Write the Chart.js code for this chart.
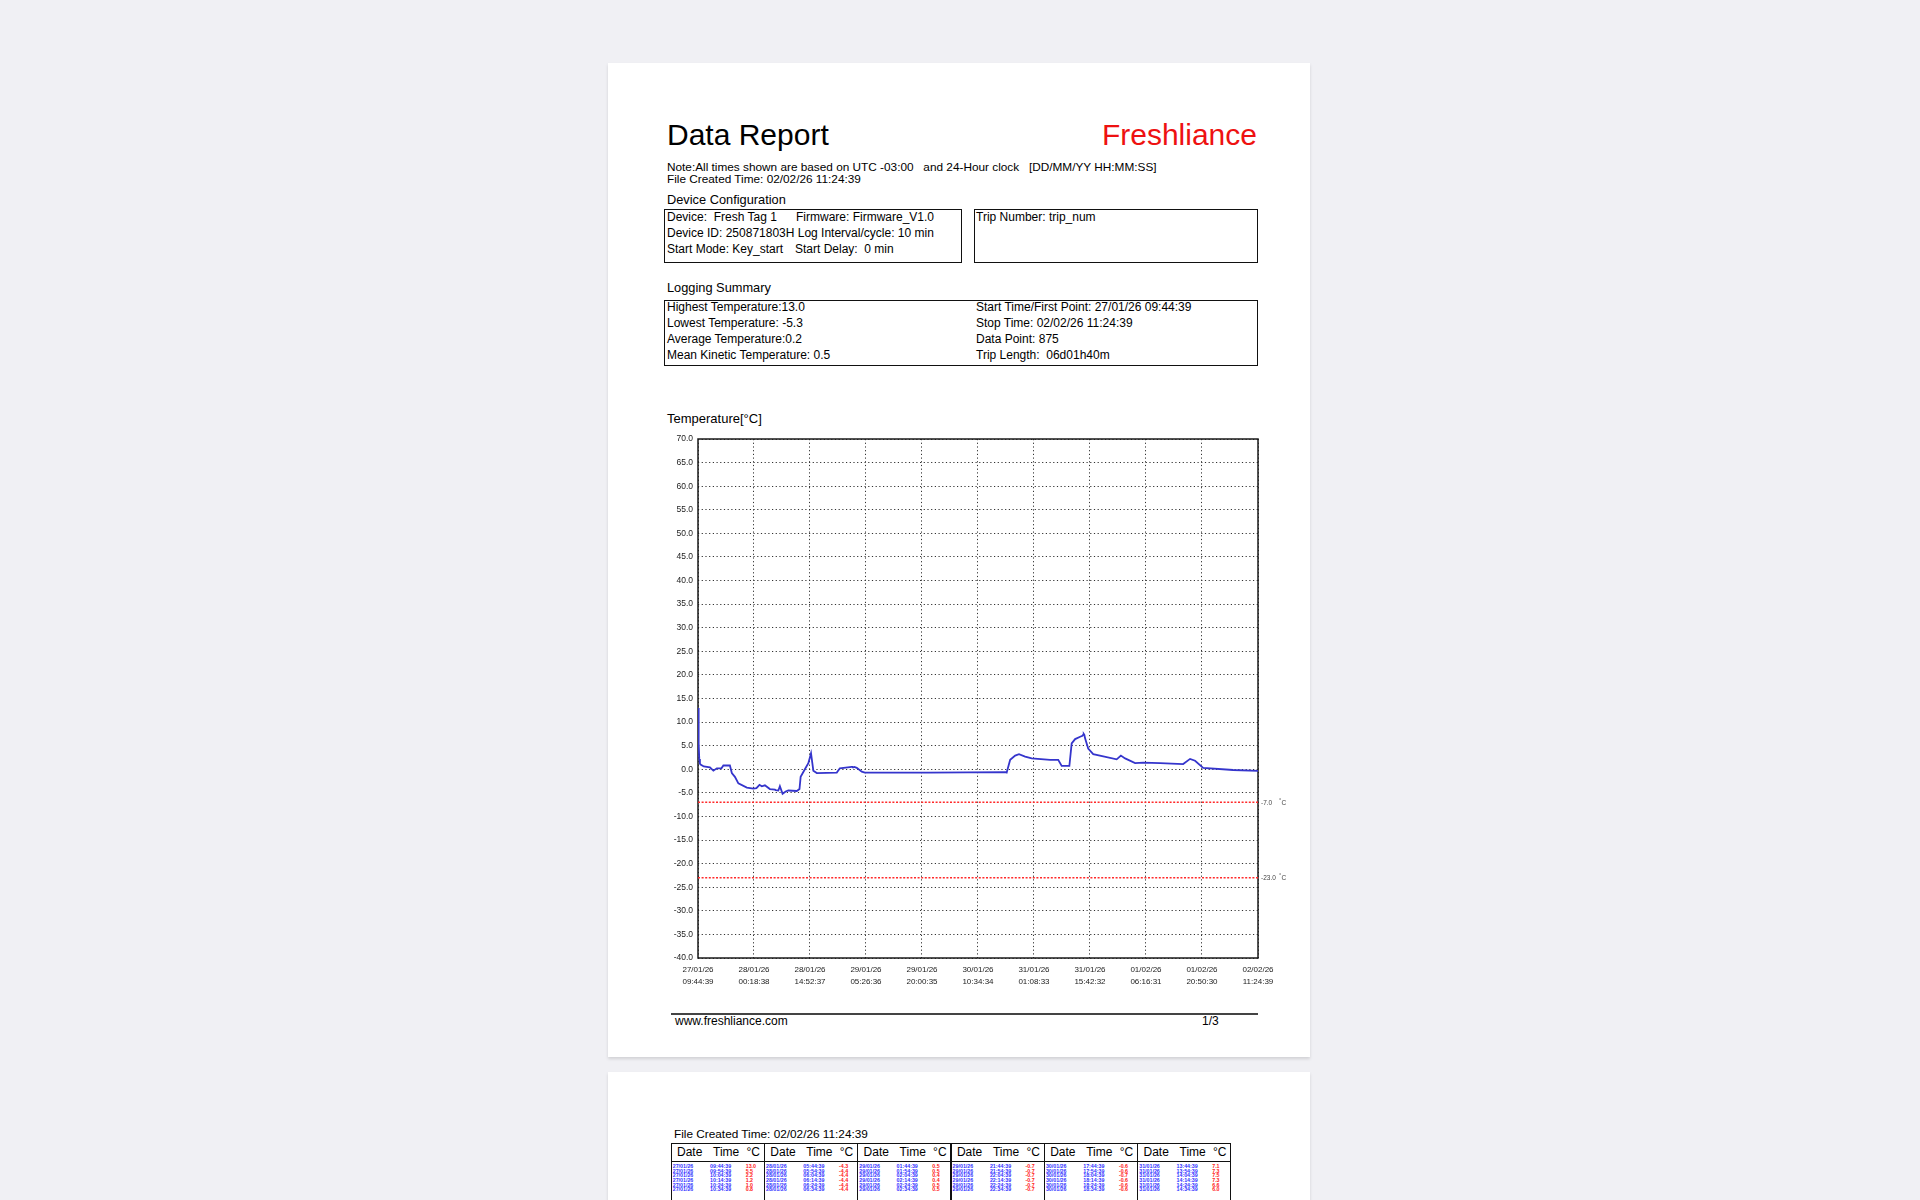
<!DOCTYPE html>
<html>
<head>
<meta charset="utf-8">
<title>Data Report</title>
<script src="https://cdn.jsdelivr.net/npm/chart.js@4/dist/chart.umd.min.js"></script>
<style>
html, body { margin: 0; padding: 0; }
body {
    width: 1920px; height: 1200px; overflow: hidden; position: relative;
    background: #f0f0f4;
    font-family: "Liberation Sans", Arial, sans-serif; color: #000;
}
.page { position: absolute; left: 608px; width: 702px; background: #fff; box-shadow: 0 2px 3px rgba(0,0,0,0.13); }
.t { position: absolute; white-space: pre; line-height: 1; }
.box { position: absolute; border: 1.5px solid #111; box-sizing: border-box; }
.hl { position: absolute; background: #111; }
#chartWrap { position: absolute; left: 640px; top: 420px; }
.cell { position: absolute; white-space: pre; line-height: 1; font-size: 5.3px; font-weight: bold; }
</style>
</head>
<body>

<div class="page" style="top:63px;height:994px;"></div>
<div class="page" style="top:1072px;height:200px;"></div>

<!-- header -->
<div class="t" style="left:667px;top:120px;font-size:30px;">Data Report</div>
<div class="t" style="right:663px;top:120px;font-size:30px;color:#ee1111;">Freshliance</div>
<div class="t" style="left:667px;top:162px;font-size:11.8px;">Note:All times shown are based on UTC -03:00   and 24-Hour clock   [DD/MM/YY HH:MM:SS]</div>
<div class="t" style="left:667px;top:174px;font-size:11.8px;">File Created Time: 02/02/26 11:24:39</div>

<!-- device configuration -->
<div class="t" style="left:667px;top:194px;font-size:12.8px;">Device Configuration</div>
<div class="box" style="left:664px;top:209px;width:298px;height:54px;"></div>
<div class="box" style="left:974px;top:209px;width:284px;height:54px;"></div>
<div class="t" style="left:667px;top:211px;font-size:12px;">Device:  Fresh Tag 1</div>
<div class="t" style="left:796px;top:211px;font-size:12px;">Firmware: Firmware_V1.0</div>
<div class="t" style="left:667px;top:227px;font-size:12px;">Device ID: 250871803H Log Interval/cycle: 10 min</div>
<div class="t" style="left:667px;top:243px;font-size:12px;">Start Mode: Key_start</div>
<div class="t" style="left:795px;top:243px;font-size:12px;">Start Delay:  0 min</div>
<div class="t" style="left:976px;top:211px;font-size:12px;">Trip Number: trip_num</div>

<!-- logging summary -->
<div class="t" style="left:667px;top:282px;font-size:12.8px;">Logging Summary</div>
<div class="box" style="left:664px;top:300px;width:594px;height:66px;"></div>
<div class="t" style="left:667px;top:301px;font-size:12px;">Highest Temperature:13.0</div>
<div class="t" style="left:667px;top:317px;font-size:12px;">Lowest Temperature: -5.3</div>
<div class="t" style="left:667px;top:333px;font-size:12px;">Average Temperature:0.2</div>
<div class="t" style="left:667px;top:349px;font-size:12px;">Mean Kinetic Temperature: 0.5</div>
<div class="t" style="left:976px;top:301px;font-size:12px;">Start Time/First Point: 27/01/26 09:44:39</div>
<div class="t" style="left:976px;top:317px;font-size:12px;">Stop Time: 02/02/26 11:24:39</div>
<div class="t" style="left:976px;top:333px;font-size:12px;">Data Point: 875</div>
<div class="t" style="left:976px;top:349px;font-size:12px;">Trip Length:  06d01h40m</div>

<!-- chart -->
<div class="t" style="left:667px;top:412px;font-size:13px;">Temperature[°C]</div>
<div id="chartWrap"><canvas id="tempChart" width="680" height="590"></canvas></div>

<!-- footer -->
<div class="hl" style="left:671px;top:1013px;width:587px;height:2px;background:#444;"></div>
<div class="t" style="left:675px;top:1015px;font-size:12px;">www.freshliance.com</div>
<div class="t" style="left:1202px;top:1015px;font-size:12px;">1/3</div>

<!-- page 2 -->
<div class="t" style="left:674px;top:1129px;font-size:11.8px;">File Created Time: 02/02/26 11:24:39</div>
<div id="table"></div>

<script>
// ---------- chart data ----------
const hours = [0, 0.17, 0.33, 0.5, 0.67, 1.5, 3.1, 4.0, 4.9, 6.1, 6.6, 8.3, 8.8, 9.6, 10.5, 12.7, 14.4, 15.2, 16.0, 16.6,
    17.4, 18.7, 20.0, 20.17, 20.9, 21.3, 22.0, 22.8, 23.5, 25.7, 26.4, 26.7, 27.8, 28.7, 29.4, 30.0, 30.9, 36.1, 36.9,
    40.0, 40.17, 40.33, 40.5, 40.67, 41.3, 42.6, 43.4, 60.0, 80.0, 80.3, 81.2, 82.5, 83.5, 85.1, 86.8, 91.6, 93.7, 94.6,
    96.6, 97.2, 98.1, 99.4, 100.0, 100.17, 100.33, 100.5, 100.67, 101.5, 102.8, 108.9, 110.0, 111.1, 113.7, 115.8,
    120.2, 126.2, 128.0, 129.3, 131.4, 139.2, 145.67];
const tempC = [13.0, 5.5, 2.2, 1.2, 1.0, 0.6, 0.4, -0.3, 0.2, 0.2, 0.8, 0.8, -0.8, -1.6, -3.0, -3.9, -4.1, -4.0, -3.3, -3.6,
    -3.4, -4.2, -4.3, -4.4, -4.5, -3.6, -5.2, -4.7, -4.5, -4.6, -4.2, -1.6, 0.0, 1.3, 3.4, -0.3, -0.8, -0.7, 0.2,
    0.5, 0.5, 0.4, 0.4, 0.5, 0.3, -0.5, -0.7, -0.7, -0.6, -0.7, 2.0, 2.9, 3.2, 2.7, 2.3, 2.0, 2.0, 0.7,
    0.7, 5.5, 6.4, 6.9, 7.1, 7.3, 7.5, 7.3, 6.6, 4.4, 3.2, 2.1, 2.9, 2.3, 1.3, 1.4,
    1.3, 1.1, 2.2, 1.8, 0.3, -0.15, -0.35];

const xTickHours = [0, 14.566, 29.133, 43.699, 58.266, 72.832, 87.398, 101.965, 116.531, 131.098, 145.667];
const xTickDates = ["27/01/26", "28/01/26", "28/01/26", "29/01/26", "29/01/26", "30/01/26", "31/01/26", "31/01/26", "01/02/26", "01/02/26", "02/02/26"];
const xTickTimes = ["09:44:39", "00:18:38", "14:52:37", "05:26:36", "20:00:35", "10:34:34", "01:08:33", "15:42:32", "06:16:31", "20:50:30", "11:24:39"];

const yMin = -40;
const yMax = 70;
const yStep = 5;
const alarmLimits = [-7, -23];

// ---------- page 2 table ----------
const tableDates = ["27/01/26", "28/01/26", "29/01/26", "29/01/26", "30/01/26", "31/01/26"];
const tableTimes = [
    ["09:44:39", "09:54:39", "10:04:39", "10:14:39", "10:24:39", "10:34:39"],
    ["05:44:39", "05:54:39", "06:04:39", "06:14:39", "06:24:39", "06:34:39"],
    ["01:44:39", "01:54:39", "02:04:39", "02:14:39", "02:24:39", "02:34:39"],
    ["21:44:39", "21:54:39", "22:04:39", "22:14:39", "22:24:39", "22:34:39"],
    ["17:44:39", "17:54:39", "18:04:39", "18:14:39", "18:24:39", "18:34:39"],
    ["13:44:39", "13:54:39", "14:04:39", "14:14:39", "14:24:39", "14:34:39"]
];
const tableTemps = [
    ["13.0", "5.5", "2.2", "1.2", "1.0", "0.8"],
    ["-4.3", "-4.4", "-4.4", "-4.4", "-4.4", "-4.4"],
    ["0.5", "0.5", "0.4", "0.4", "0.5", "0.5"],
    ["-0.7", "-0.7", "-0.7", "-0.7", "-0.7", "-0.7"],
    ["-0.6", "-0.6", "-0.7", "-0.6", "-0.6", "-0.6"],
    ["7.1", "7.3", "7.5", "7.3", "6.6", "6.0"]
];

const FONT = '"Liberation Sans", Arial, sans-serif';

// =======================
// TABLE
// =======================
function buildTable() {
    const host = document.getElementById("table");
    const left = 671, top = 1143, colW = 93.3, nCols = 6;
    let html = `<div class="box" style="left:${left}px;top:${top}px;width:${colW * nCols}px;height:90px;"></div>`;
    html += `<div class="hl" style="left:${left}px;top:1161px;width:${colW * nCols}px;height:1px;"></div>`;
    for (let c = 0; c < nCols; c++) {
        const cx = left + c * colW;
        if (c > 0) html += `<div class="hl" style="left:${cx - 0.5}px;top:${top}px;width:1.3px;height:90px;"></div>`;
        html += `<div class="t" style="left:${cx + 6}px;top:1146px;font-size:12px;">Date</div>`;
        html += `<div class="t" style="left:${cx + 42}px;top:1146px;font-size:12px;">Time</div>`;
        html += `<div class="t" style="left:${cx + 75.5}px;top:1146px;font-size:12px;">°C</div>`;
        tableTimes[c].forEach((tm, r) => {
            const y = 1164.1 + r * 4.67;
            html += `<div class="cell" style="left:${cx + 1.7}px;top:${y}px;color:#3333ff;">${tableDates[c]}</div>`;
            html += `<div class="cell" style="left:${cx + 39}px;top:${y}px;color:#3333ff;">${tm}</div>`;
            html += `<div class="cell" style="left:${cx + 74.7}px;top:${y}px;color:#ff2020;">${tableTemps[c][r]}</div>`;
        });
    }
    host.innerHTML = html;
}
buildTable();

// =======================
// CHART
// =======================
const plotFrame = {
    id: "plotFrame",
    beforeDatasetsDraw(chart) {
        const { ctx, chartArea } = chart;
        ctx.save();
        ctx.lineWidth = 1.5;
        ctx.strokeStyle = "#1a1a1a";
        ctx.strokeRect(chartArea.left, chartArea.top, chartArea.right - chartArea.left, chartArea.bottom - chartArea.top);
        ctx.restore();
    },
    afterDraw(chart) {
        const { ctx, chartArea, scales } = chart;
        ctx.save();
        ctx.fillStyle = "#444";
        ctx.textBaseline = "middle";
        alarmLimits.forEach(v => {
            const py = scales.y.getPixelForValue(v);
            ctx.font = `6.5px ${FONT}`;
            ctx.fillText(v.toFixed(1), chartArea.right + 3, py + 0.5);
            ctx.font = `5.5px ${FONT}`;
            ctx.fillText("°", chartArea.right + 21, py - 2);
            ctx.font = `6.5px ${FONT}`;
            ctx.fillText("C", chartArea.right + 23.5, py + 0.5);
        });
        ctx.restore();
    }
};

const tempPoints = hours.map((h, i) => ({ x: h, y: tempC[i] }));
const lastHour = xTickHours[xTickHours.length - 1];

const alarmSets = alarmLimits.map(v => ({
    data: [{ x: 0, y: v }, { x: lastHour, y: v }],
    borderColor: "#ff2a2a",
    borderWidth: 1.5,
    borderDash: [2, 1.6],
    pointRadius: 0
}));

new Chart(document.getElementById("tempChart"), {
    type: "line",
    data: {
        datasets: [
            {
                data: tempPoints,
                borderColor: "#3535cc",
                borderWidth: 1.8,
                pointRadius: 0,
                tension: 0
            },
            ...alarmSets
        ]
    },
    options: {
        responsive: false,
        animation: false,
        layout: { padding: { left: 0, top: 19, right: 62, bottom: 12 } },
        plugins: { legend: { display: false }, tooltip: { enabled: false } },
        scales: {
            x: {
                type: "linear",
                min: 0,
                max: lastHour,
                afterBuildTicks: scale => { scale.ticks = xTickHours.map(v => ({ value: v })); },
                afterFit: scale => { scale.height = 40; },
                ticks: {
                    autoSkip: false,
                    maxRotation: 0,
                    minRotation: 0,
                    padding: 6,
                    color: "#222",
                    font: { family: FONT, size: 8, lineHeight: 1.5 },
                    callback: (v, i) => [xTickDates[i], xTickTimes[i]]
                },
                grid: { color: "#333", lineWidth: 1, drawTicks: false },
                border: { display: false, dash: [1.2, 2.5] }
            },
            y: {
                min: yMin,
                max: yMax,
                afterFit: scale => { scale.width = 58; },
                ticks: {
                    stepSize: yStep,
                    padding: 5,
                    color: "#222",
                    font: { family: FONT, size: 8.5 },
                    callback: v => v.toFixed(1)
                },
                grid: { color: "#333", lineWidth: 1, drawTicks: false },
                border: { display: false, dash: [1.2, 2.5] }
            }
        }
    },
    plugins: [plotFrame]
});
</script>
</body>
</html>
